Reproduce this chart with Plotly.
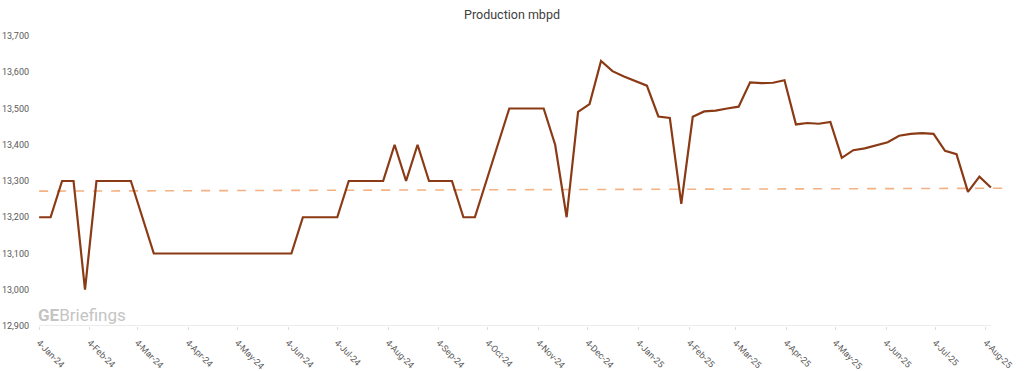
import pandas as pd
import plotly.graph_objects as go

# ---- data ----
start_date = "2024-01-04"
n_weeks = 84
dates = pd.date_range(start=start_date, periods=n_weeks, freq="7D")

production = [
    13200, 13200, 13300, 13300, 13000, 13300, 13300, 13300, 13300, 13200,
    13100, 13100, 13100, 13100, 13100, 13100, 13100, 13100, 13100, 13100,
    13100, 13100, 13100,
    13200, 13200, 13200, 13200,
    13300, 13300, 13300, 13300,
    13400, 13300, 13400,
    13300, 13300, 13300,
    13200, 13200,
    13300, 13400,
    13500, 13500, 13500, 13500,
    13400, 13200,
    13491, 13512, 13631, 13603, 13588, 13575, 13563, 13478, 13474, 13237,
    13477, 13492, 13494, 13500, 13505, 13572, 13570, 13571, 13578, 13456,
    13460, 13458, 13463, 13364, 13385, 13390, 13398, 13407, 13425, 13430,
    13432, 13430, 13383, 13374, 13270, 13312, 13282,
]

trend_dates = ["2024-01-04", "2025-08-15"]
trend_values = [13272, 13280]

tick_dates = pd.date_range("2024-01-01", "2025-08-01", freq="MS") + pd.Timedelta(days=3)
tick_labels = [f"{d.day}-{d.strftime('%b')}-{d.strftime('%y')}" for d in tick_dates]

y_min, y_max, y_step = 12900, 13700, 100

# ---- figure ----
fig = go.Figure()

fig.add_trace(go.Scatter(
    x=trend_dates, y=trend_values, mode="lines",
    line=dict(color="#F4B183", width=1.6, dash="dash"),
    hoverinfo="skip", showlegend=False,
))

fig.add_trace(go.Scatter(
    x=dates, y=production, mode="lines",
    line=dict(color="#8B3A16", width=2.2),
    showlegend=False, name="Production",
))

# axis baseline from first to last data date
fig.add_shape(type="line", xref="x", yref="y",
              x0=dates[0], x1=dates[-1], y0=y_min, y1=y_min,
              line=dict(color="#D9D9D9", width=1), layer="below")

fig.add_annotation(
    text="<b>GE</b>Briefings", xref="paper", yref="y",
    x=0, y=12930, xanchor="left", yanchor="middle", xshift=-3,
    showarrow=False,
    font=dict(family="Roboto, Arial, sans-serif", size=17, color="#C4C4C4"),
)

fig.update_layout(
    width=1024, height=371,
    margin=dict(l=39, r=20, t=36, b=45),
    paper_bgcolor="white", plot_bgcolor="white",
    title=dict(text="Production mbpd", x=0.5, xanchor="center", y=0.96, yanchor="middle",
               font=dict(family="Roboto, Arial, sans-serif", size=12.5, color="#404040")),
    font=dict(family="Roboto, Arial, sans-serif", size=9, color="#595959"),
)

fig.update_xaxes(
    range=[pd.Timestamp("2024-01-03 22:00"), pd.Timestamp("2025-08-15")],
    tickvals=list(tick_dates), ticktext=tick_labels,
    tickangle=45, showgrid=False, zeroline=False, showline=False,
    ticks="outside", ticklen=3, tickcolor="#DDDDDD",
    tickfont=dict(size=9, color="#595959"),
    ticklabelstandoff=4, automargin=False,
)

fig.update_yaxes(
    range=[y_min, y_max], dtick=y_step, tick0=y_min,
    tickformat=",", showgrid=False, zeroline=False, showline=False,
    ticks="", tickfont=dict(size=9, color="#595959"),
    ticklabelstandoff=9, automargin=False,
)

fig.write_html(
    "out.html",
    config={"displayModeBar": False},
    post_script="document.body.style.margin='0';document.body.style.overflow='hidden';",
)
